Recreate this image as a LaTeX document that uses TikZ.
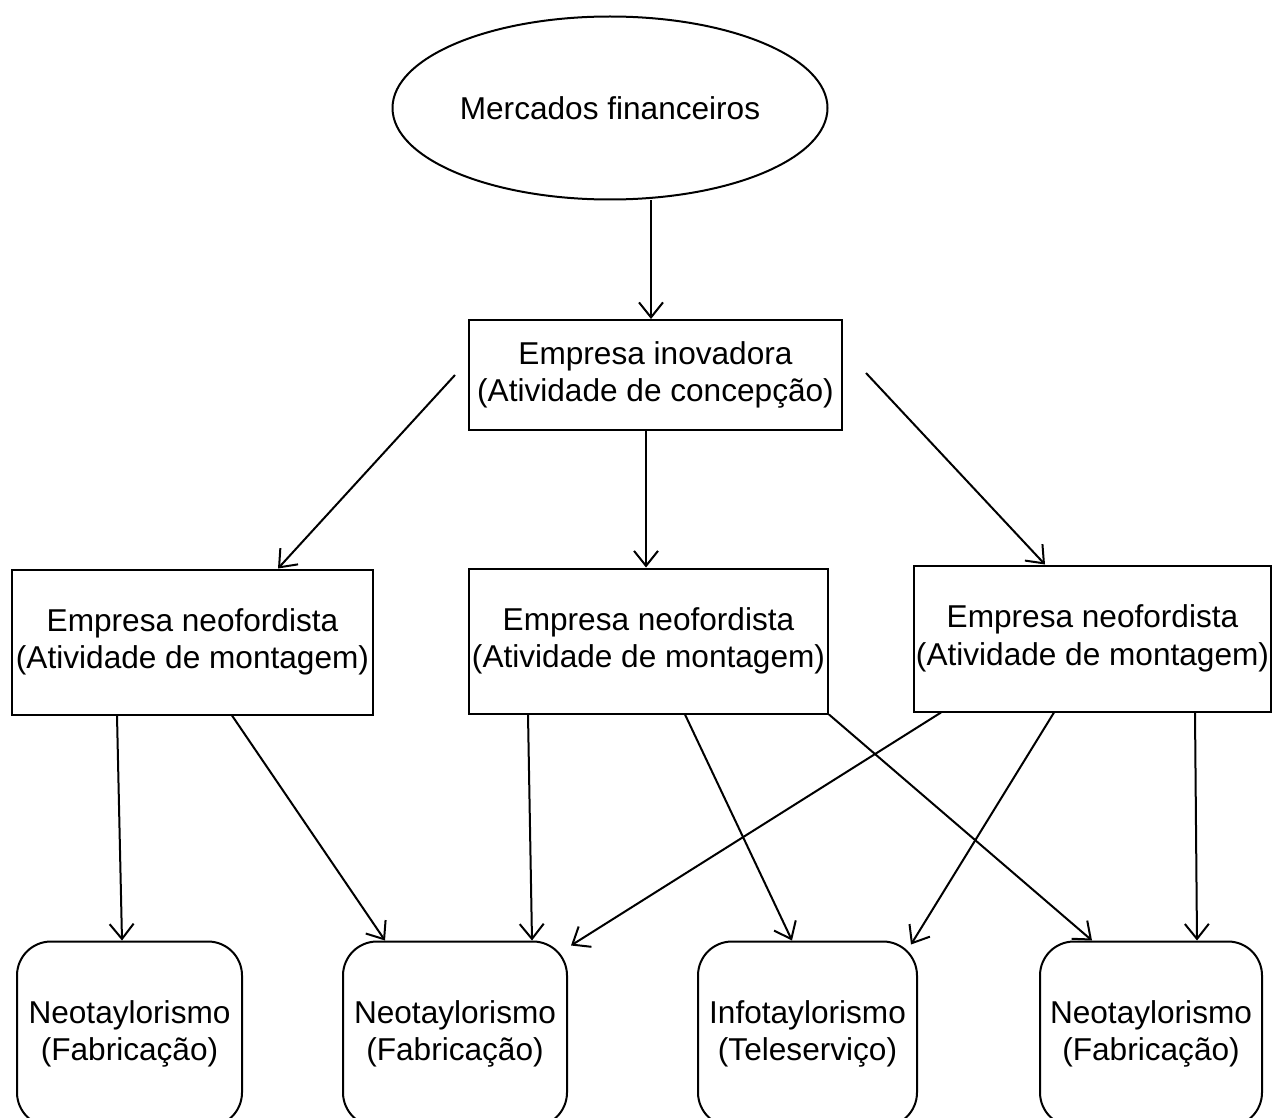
\documentclass[tikz,border=0pt]{standalone}
\usepackage{fontspec}
\setmainfont{Liberation Sans}
\usetikzlibrary{shapes.geometric,arrows.meta}
\begin{document}
\begin{tikzpicture}[x=1pt, y=-1pt, line width=2pt,
  font=\fontsize{31.6}{37.5}\selectfont,
  elip/.style = {draw, ellipse, minimum width=435pt, minimum height=183pt},
  caixa/.style = {draw, rectangle, align=center, inner sep=0pt},
  arred/.style = {draw, rectangle, rounded corners=34pt, align=center, minimum height=185pt, inner sep=0pt},
  arr/.style = {-{Straight Barb[length=15pt, width=24pt]}}]
  \useasboundingbox (0,0) rectangle (1275,1118);

  \node[elip] (merc) at (610,108) {Mercados financeiros};
  \node[caixa, minimum width=373pt, minimum height=110pt] (inov) at (655.5,375) {Empresa inovadora\\(Atividade de concepção)};

  \node[caixa, minimum width=361pt, minimum height=145pt] (neoA) at (192.5,642) {Empresa neofordista\\(Atividade de montagem)};
  \node[caixa, minimum width=359pt, minimum height=145pt] (neoB) at (648.5,641) {Empresa neofordista\\(Atividade de montagem)};
  \node[caixa, minimum width=357pt, minimum height=146pt] (neoC) at (1092.5,638.5) {Empresa neofordista\\(Atividade de montagem)};

  \node[arred, minimum width=225pt] (tayA) at (129.5,1034) {Neotaylorismo\\(Fabricação)};
  \node[arred, minimum width=224pt] (tayB) at (455,1034) {Neotaylorismo\\(Fabricação)};
  \node[arred, minimum width=219pt] (tayC) at (807.5,1034) {Infotaylorismo\\(Teleserviço)};
  \node[arred, minimum width=222pt] (tayD) at (1151,1034) {Neotaylorismo\\(Fabricação)};

  \coordinate (esq) at (455,375);
  \coordinate (dir) at (866,373);

  \draw[arr] ([xshift=41pt]merc.south) -- ([xshift=-4.5pt]inov.north);
  \draw[arr] (esq) -- ([xshift=85.5pt]neoA.north);
  \draw[arr] ([xshift=-9.5pt]inov.south) -- ([xshift=-2.5pt]neoB.north);
  \draw[arr] (dir) -- ([xshift=-47.5pt]neoC.north);

  \draw[arr] ([xshift=-75.5pt]neoA.south) -- ([xshift=-7.5pt]tayA.north);
  \draw[arr] ([xshift=39.5pt]neoA.south) -- ([xshift=-70pt]tayB.north);
  \draw[arr] ([xshift=-120.5pt]neoB.south) -- ([xshift=77pt]tayB.north);
  \draw[arr] ([xshift=36.5pt]neoB.south) -- ([xshift=-15.5pt]tayC.north);
  \draw[arr] (neoB.south east) -- ([xshift=-59pt]tayD.north);
  \draw[arr] ([xshift=-151.5pt]neoC.south) -- ([shift={(3pt,-5pt)}]tayB.north east);
  \draw[arr] ([xshift=-38.5pt]neoC.south) -- ([shift={(-7pt,-4pt)}]tayC.north east);
  \draw[arr] ([xshift=102.5pt]neoC.south) -- ([xshift=46pt]tayD.north);
\end{tikzpicture}
\end{document}
